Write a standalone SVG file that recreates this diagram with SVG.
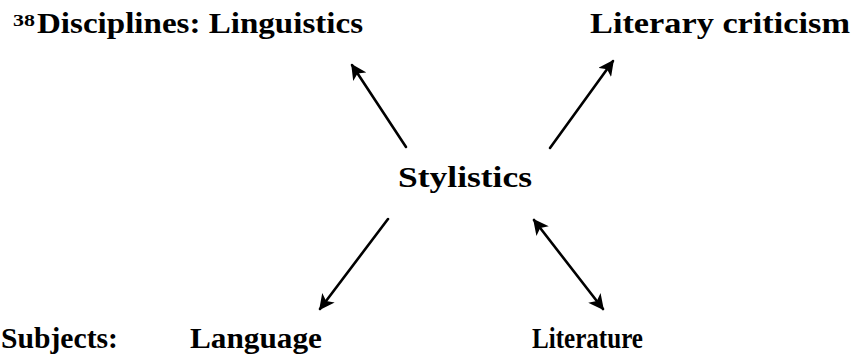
<svg xmlns="http://www.w3.org/2000/svg" width="854" height="356" viewBox="0 0 854 356">
  <style>
    .lbl { font-family: "Liberation Serif", "DejaVu Serif", serif; font-weight: bold; font-size: 29px; fill: #000; }
    .sup { font-family: "Liberation Serif", "DejaVu Serif", serif; font-weight: bold; font-size: 17px; fill: #000; }
    .edge { stroke: #000; stroke-width: 2.6; fill: none; stroke-linecap: round; }
  </style>
  <defs>
    <marker id="head" viewBox="0 0 10 10" refX="9" refY="5" markerWidth="6" markerHeight="6" orient="auto-start-reverse" markerUnits="strokeWidth">
      <path d="M0,0 L10,5 L0,10 L2.5,5 Z" fill="#000"/>
    </marker>
  </defs>
  <rect width="854" height="356" fill="#fff"/>

  <g id="disciplines">
    <text class="sup" x="13" y="26" textLength="22" lengthAdjust="spacingAndGlyphs">38</text>
    <text class="lbl" x="37" y="33" textLength="326" lengthAdjust="spacingAndGlyphs">Disciplines: Linguistics</text>
  </g>
  <g id="literary-criticism">
    <text class="lbl" x="590" y="33" textLength="260" lengthAdjust="spacingAndGlyphs">Literary criticism</text>
  </g>
  <g id="stylistics">
    <text class="lbl" x="398" y="187" textLength="134" lengthAdjust="spacingAndGlyphs">Stylistics</text>
  </g>
  <g id="subjects">
    <text class="lbl" x="1" y="348" textLength="117" lengthAdjust="spacingAndGlyphs">Subjects:</text>
  </g>
  <g id="language">
    <text class="lbl" x="190" y="348" textLength="132" lengthAdjust="spacingAndGlyphs">Language</text>
  </g>
  <g id="literature">
    <text class="lbl" x="532" y="348" textLength="111" lengthAdjust="spacingAndGlyphs">Literature</text>
  </g>

  <g id="connectors">
    <line class="edge" x1="406" y1="147" x2="352" y2="65" marker-end="url(#head)"/>
    <line class="edge" x1="550" y1="148" x2="613" y2="61" marker-end="url(#head)"/>
    <line class="edge" x1="388" y1="219" x2="320" y2="309" marker-end="url(#head)"/>
    <line class="edge" x1="534" y1="220" x2="603" y2="309" marker-start="url(#head)" marker-end="url(#head)"/>
  </g>
</svg>
